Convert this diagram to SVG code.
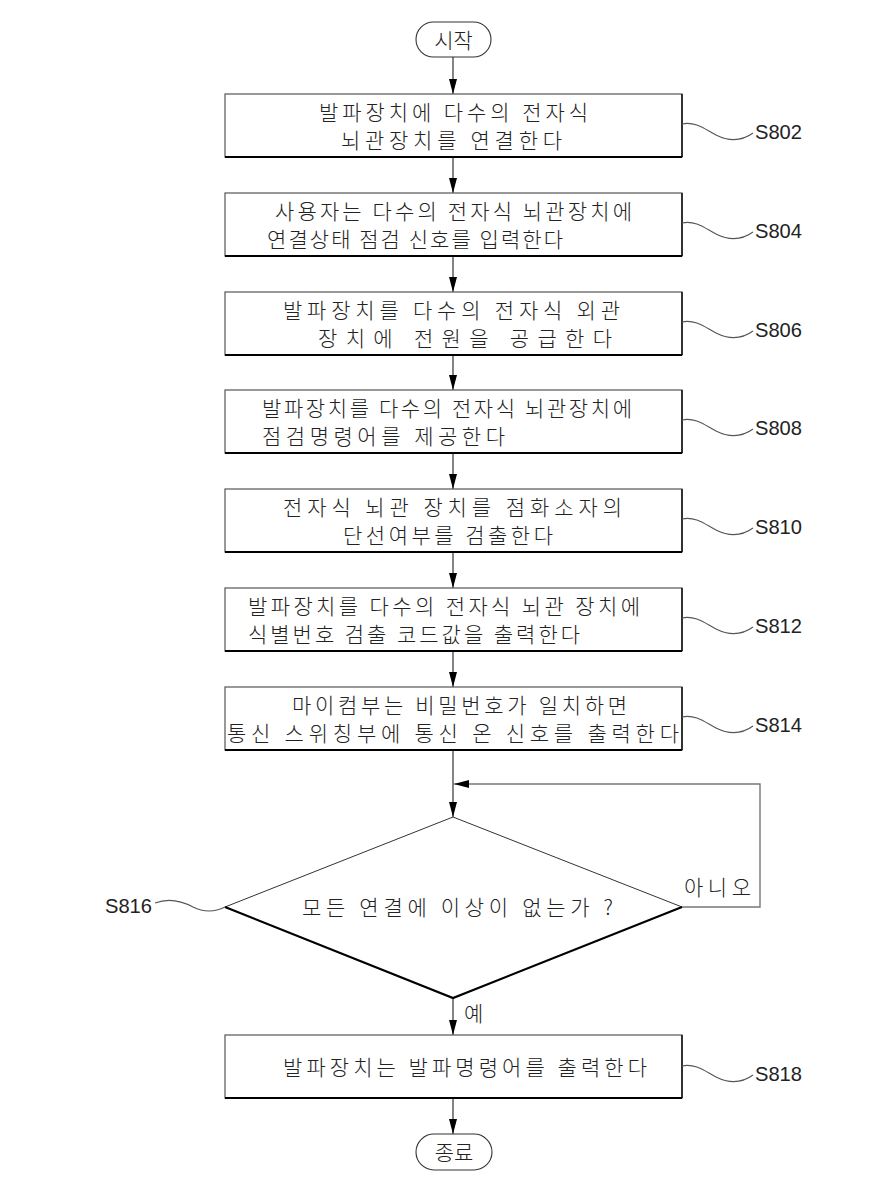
<svg xmlns="http://www.w3.org/2000/svg" width="892" height="1189" viewBox="0 0 892 1189">
<style>
.bg{fill:#fff}
.box{fill:#fff;stroke:#555;stroke-width:1.2}
.shade{fill:none;stroke:#000;stroke-width:2}
.shadeR{fill:none;stroke:#111;stroke-width:1.5}
.term{fill:#fff;stroke:#333;stroke-width:1.1}
.t{font-family:"Noto Sans CJK KR","Noto Sans",sans-serif;font-size:21px;font-weight:300;fill:#222}
.lbl{font-family:"Liberation Sans",Arial,sans-serif;font-size:21px;fill:#222}
.sq{fill:none;stroke:#555;stroke-width:1.1}
.conn{fill:none;stroke:#333;stroke-width:1.2}
.loop{fill:none;stroke:#777;stroke-width:1.4}
.dthin{fill:none;stroke:#333;stroke-width:1}
.dthick{fill:none;stroke:#000;stroke-width:2.2}
</style>
<defs>
<marker id="ah" markerUnits="userSpaceOnUse" markerWidth="15" markerHeight="8" refX="15" refY="4" orient="auto">
<path d="M0,0 L15,4 L0,8 z" fill="#000"/>
</marker>
</defs>
<rect class="bg" x="0" y="0" width="892" height="1189"/>

<g id="connectors">
<path class="conn" d="M453,57 V94" marker-end="url(#ah)"/>
<path class="conn" d="M453,157 V193" marker-end="url(#ah)"/>
<path class="conn" d="M453,256 V292" marker-end="url(#ah)"/>
<path class="conn" d="M453,355 V390" marker-end="url(#ah)"/>
<path class="conn" d="M453,453 V489" marker-end="url(#ah)"/>
<path class="conn" d="M453,552 V588" marker-end="url(#ah)"/>
<path class="conn" d="M453,651 V687" marker-end="url(#ah)"/>
<path class="conn" d="M453,750 V817" marker-end="url(#ah)"/>
<path class="loop" d="M682,907 H760 V784 H454" marker-end="url(#ah)"/>
<path class="conn" d="M453,998 V1035" marker-end="url(#ah)"/>
<path class="conn" d="M453,1098 V1134" marker-end="url(#ah)"/>
<text class="t" x="464" y="1021" font-size="20">예</text>
<text class="t" x="684" y="895" textLength="67">아니오</text>
</g>

<g id="start">
<rect class="term" x="416" y="22" width="75" height="35" rx="17.5"/>
<text class="t" x="453.5" y="48" text-anchor="middle">시작</text>
</g>

<g id="S802">
<rect class="box" x="225" y="94" width="457" height="63"/>
<path class="shade" d="M225,157 H682"/><path class="shadeR" d="M682,94 V157"/>
<text class="t" x="319" y="120" textLength="269">발파장치에 다수의 전자식</text>
<text class="t" x="341" y="148" textLength="221">뇌관장치를 연결한다</text>
<path class="sq" d="M682,124 C696,121 706,130 716,135 C730,142 742,141 753,133"/>
<text class="lbl" x="755" y="139" textLength="47" lengthAdjust="spacingAndGlyphs">S802</text>
</g>

<g id="S804">
<rect class="box" x="225" y="193" width="457" height="63"/>
<path class="shade" d="M225,256 H682"/><path class="shadeR" d="M682,193 V256"/>
<text class="t" x="275" y="219" textLength="357">사용자는 다수의 전자식 뇌관장치에</text>
<text class="t" x="267" y="247" textLength="296">연결상태 점검 신호를 입력한다</text>
<path class="sq" d="M682,223 C696,220 706,229 716,234 C730,241 742,240 753,232"/>
<text class="lbl" x="755" y="238" textLength="47" lengthAdjust="spacingAndGlyphs">S804</text>
</g>

<g id="S806">
<rect class="box" x="225" y="292" width="457" height="63"/>
<path class="shade" d="M225,355 H682"/><path class="shadeR" d="M682,292 V355"/>
<text class="t" x="283" y="318" textLength="337">발파장치를 다수의 전자식 외관</text>
<text class="t" x="318" y="346" textLength="294">장치에 전원을 공급한다</text>
<path class="sq" d="M682,322 C696,319 706,328 716,333 C730,340 742,339 753,331"/>
<text class="lbl" x="755" y="337" textLength="47" lengthAdjust="spacingAndGlyphs">S806</text>
</g>

<g id="S808">
<rect class="box" x="225" y="390" width="457" height="63"/>
<path class="shade" d="M225,453 H682"/><path class="shadeR" d="M682,390 V453"/>
<text class="t" x="262" y="416" textLength="370">발파장치를 다수의 전자식 뇌관장치에</text>
<text class="t" x="262" y="444" textLength="243">점검명령어를 제공한다</text>
<path class="sq" d="M682,420 C696,417 706,426 716,431 C730,438 742,437 753,429"/>
<text class="lbl" x="755" y="435" textLength="47" lengthAdjust="spacingAndGlyphs">S808</text>
</g>

<g id="S810">
<rect class="box" x="225" y="489" width="457" height="63"/>
<path class="shade" d="M225,552 H682"/><path class="shadeR" d="M682,489 V552"/>
<text class="t" x="283" y="515" textLength="339">전자식 뇌관 장치를 점화소자의</text>
<text class="t" x="343" y="543" textLength="210">단선여부를 검출한다</text>
<path class="sq" d="M682,519 C696,516 706,525 716,530 C730,537 742,536 753,528"/>
<text class="lbl" x="755" y="534" textLength="47" lengthAdjust="spacingAndGlyphs">S810</text>
</g>

<g id="S812">
<rect class="box" x="225" y="588" width="457" height="63"/>
<path class="shade" d="M225,651 H682"/><path class="shadeR" d="M682,588 V651"/>
<text class="t" x="248" y="614" textLength="392">발파장치를 다수의 전자식 뇌관 장치에</text>
<text class="t" x="248" y="642" textLength="332">식별번호 검출 코드값을 출력한다</text>
<path class="sq" d="M682,618 C696,615 706,624 716,629 C730,636 742,635 753,627"/>
<text class="lbl" x="755" y="633" textLength="47" lengthAdjust="spacingAndGlyphs">S812</text>
</g>

<g id="S814">
<rect class="box" x="225" y="687" width="457" height="63"/>
<path class="shade" d="M225,750 H682"/><path class="shadeR" d="M682,687 V750"/>
<text class="t" x="292" y="713" textLength="335">마이컴부는 비밀번호가 일치하면</text>
<text class="t" x="227" y="741" textLength="452">통신 스위칭부에 통신 온 신호를 출력한다</text>
<path class="sq" d="M682,717 C696,714 706,723 716,728 C730,735 742,734 753,726"/>
<text class="lbl" x="755" y="732" textLength="47" lengthAdjust="spacingAndGlyphs">S814</text>
</g>

<g id="S816">
<path class="dthin" d="M225,907 L453,817 L682,907"/>
<path class="dthick" d="M225,907 L453,998 L682,907"/>
<text class="t" x="302" y="915" textLength="311">모든 연결에 이상이 없는가 ?</text>
<path class="sq" d="M155,903 C168,898 180,900 193,907 C205,913 215,912 225,907"/>
<text class="lbl" x="105" y="913" textLength="47" lengthAdjust="spacingAndGlyphs">S816</text>
</g>

<g id="S818">
<rect class="box" x="225" y="1035" width="457" height="63"/>
<path class="shade" d="M225,1098 H682"/><path class="shadeR" d="M682,1035 V1098"/>
<text class="t" x="283" y="1075" textLength="364">발파장치는 발파명령어를 출력한다</text>
<path class="sq" d="M682,1066 C696,1063 706,1072 716,1077 C730,1084 742,1083 753,1075"/>
<text class="lbl" x="755" y="1081" textLength="47" lengthAdjust="spacingAndGlyphs">S818</text>
</g>

<g id="end">
<rect class="term" x="416" y="1134" width="76" height="36" rx="18"/>
<text class="t" x="454" y="1160" text-anchor="middle">종료</text>
</g>
</svg>
